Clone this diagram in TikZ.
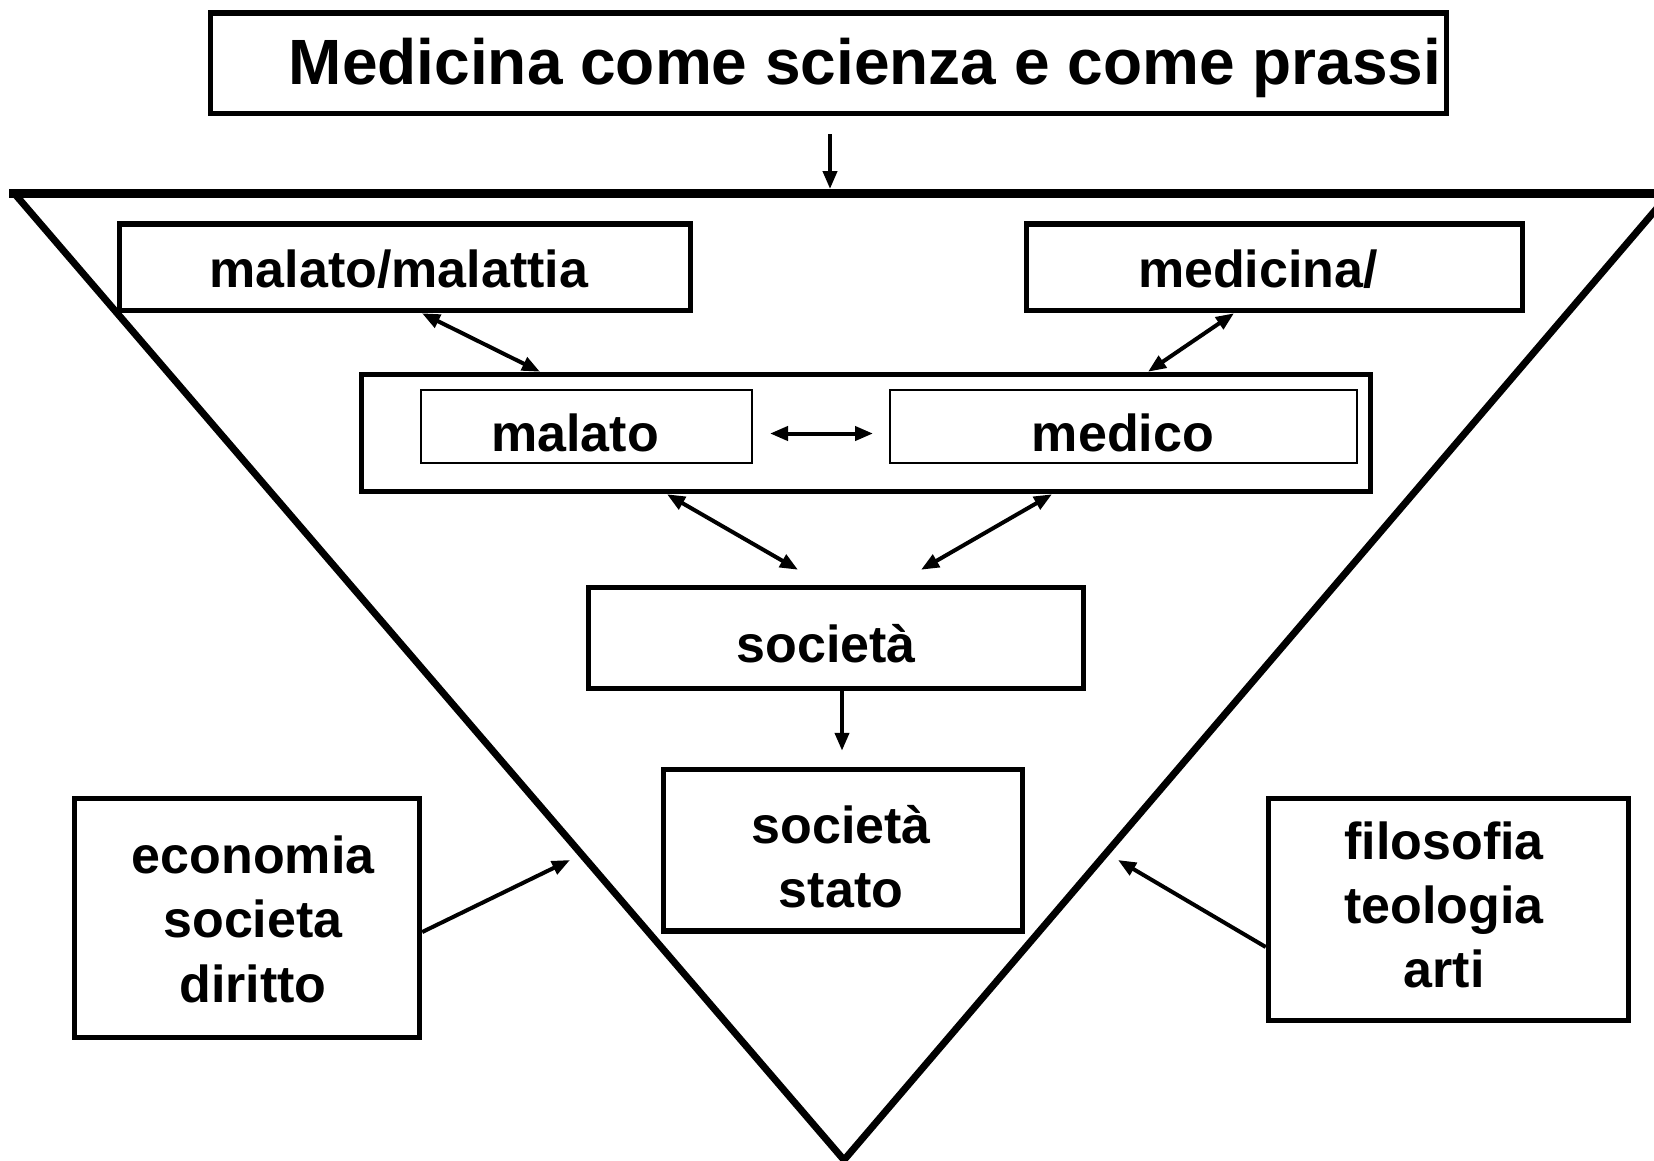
\documentclass[tikz,border=0pt]{standalone}
\usepackage{fontspec}
\setmainfont{Liberation Sans}
\usetikzlibrary{arrows.meta}
\begin{document}
\begin{tikzpicture}[x=1pt,y=-1pt,
  box/.style={draw, line width=5.5pt, rectangle, inner sep=0pt},
  thinbox/.style={draw, line width=2pt, rectangle, inner sep=0pt},
  txt/.style={inner sep=0pt, anchor=base, font=\fontsize{52pt}{63pt}\selectfont\bfseries},
  ttl/.style={inner sep=0pt, anchor=base, font=\fontsize{64pt}{70pt}\selectfont\bfseries},
  arr/.style={line width=4pt, -{Triangle[length=18pt,width=14pt]}},
  dbl/.style={line width=4pt, {Triangle[length=18pt,width=14pt]}-{Triangle[length=18pt,width=14pt]}}]
\useasboundingbox (0,0) rectangle (1654,1160);
\fill[white] (0,0) rectangle (1654,1160);

% triangle
\draw[line width=7pt, line join=miter] (14,193) -- (844,1160) -- (1670,193);
\draw[line width=9pt] (9,193) -- (1680,193);
\coordinate (tritop) at (830,189);
\coordinate (lhit) at (570,860);
\coordinate (rhit) at (1118,860);

% boxes
\node[box, minimum width=1236pt, minimum height=100.5pt] (title) at (828.5,63.25) {};
\node[ttl] (titletext) at (865,84.4) {Medicina come scienza e come prassi};

\node[box, minimum width=571pt, minimum height=86.5pt] (mal) at (405,267.25) {};
\node[txt] (maltext) at (399,287) {malato/malattia};
\node[box, minimum width=496pt, minimum height=86.5pt] (med) at (1274.5,267.25) {};
\node[txt] (medtext) at (1258,287) {medicina/};

\node[box, minimum width=1009pt, minimum height=117pt] (mid) at (866,433) {};
\node[thinbox, minimum width=331pt, minimum height=73pt] (malato) at (586.5,426.5) {};
\node[txt] (malatotext) at (575,451.5) {malato};
\node[thinbox, minimum width=467pt, minimum height=73pt] (medico) at (1123.5,426.5) {};
\node[txt] (medicotext) at (1123,451.5) {medico};

\node[box, minimum width=495pt, minimum height=101pt] (soc) at (836,638) {};
\node[txt] (soctext) at (826,662) {società};

\node[box, minimum width=359pt, minimum height=161.5pt] (stato) at (843,850.25) {};
\node[txt] (statotexta) at (841,843) {società};
\node[txt] (statotextb) at (841,907) {stato};

\node[box, minimum width=345pt, minimum height=239pt] (econ) at (247,918) {};
\node[txt] (econa) at (253,873) {economia};
\node[txt] (econb) at (253,937) {societa};
\node[txt] (econc) at (253,1002) {diritto};

\node[box, minimum width=360pt, minimum height=222pt] (filo) at (1448.5,909.5) {};
\node[txt] (filoa) at (1444,859) {filosofia};
\node[txt] (filob) at (1444,923) {teologia};
\node[txt] (filoc) at (1444,987) {arti};

% connectors
\draw[arr] ([xshift=1.5pt,yshift=-18pt]title.south) -- (tritop);
\draw[dbl] ([xshift=17pt]mal.south) -- ([xshift=-326pt]mid.north);
\draw[dbl] ([xshift=-40.5pt]med.south) -- ([xshift=282pt]mid.north);
\draw[dbl] ([xshift=17pt,yshift=-7pt]malato.east) -- ([xshift=-16pt,yshift=-7pt]medico.west);
\draw[dbl] ([xshift=-199pt]mid.south) -- ([xshift=-38pt,yshift=15pt]soc.north);
\draw[dbl] ([xshift=186pt]mid.south) -- ([xshift=85pt,yshift=15pt]soc.north);
\draw[arr] ([xshift=6pt]soc.south) -- ([xshift=-1pt,yshift=16pt]stato.north);
\draw[arr] ([yshift=-14pt]econ.east) -- (lhit);
\draw[arr] ([yshift=-37.5pt]filo.west) -- (rhit);
\end{tikzpicture}
\end{document}
